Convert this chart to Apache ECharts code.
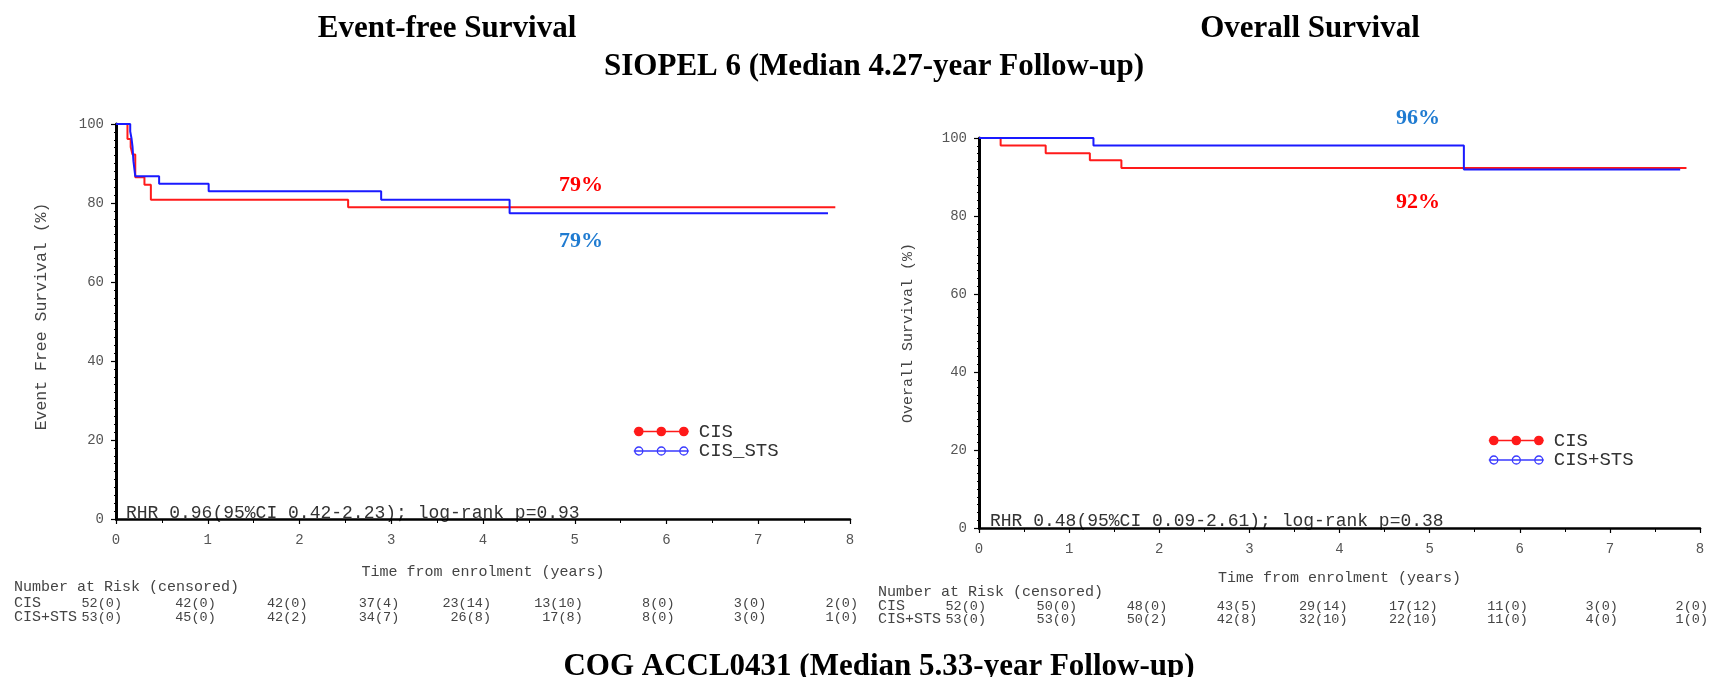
<!DOCTYPE html>
<html><head><meta charset="utf-8">
<script src="https://cdn.jsdelivr.net/npm/echarts@6/dist/echarts.min.js"></script>
<style>html,body{margin:0;padding:0;background:#fff}#c{width:1720px;height:677px}</style>
</head><body><div id="c"></div>
<script>
// ---------- data ----------
const xTicks = [0, 1, 2, 3, 4, 5, 6, 7, 8];
const yTicks = [0, 20, 40, 60, 80, 100];

// Event-free survival (SIOPEL 6)
const efsCisTime = [0, 0.125, 0.16, 0.18, 0.21, 0.31, 0.38, 2.53, 7.84];
const efsCisSurv = [100, 96.2, 94.2, 92.3, 86.5, 84.6, 80.8, 78.9, 78.9];
const efsStsTime = [0, 0.155, 0.17, 0.18, 0.19, 0.21, 0.47, 1.01, 2.89, 4.29, 7.76];
const efsStsSurv = [100, 98.1, 96.2, 94.3, 90.6, 86.8, 84.9, 83.0, 80.8, 77.4, 77.4];

// Overall survival
const osCisTime = [0, 0.24, 0.74, 1.23, 1.58, 7.85];
const osCisSurv = [100, 98.1, 96.1, 94.3, 92.3, 92.3];
const osStsTime = [0, 1.27, 5.38, 7.78];
const osStsSurv = [100, 98.1, 91.9, 91.9];

// Numbers at risk (censored)
const riskTimes = [0, 1, 2, 3, 4, 5, 6, 7, 8];
const efsRiskCis = ['52(0)', '42(0)', '42(0)', '37(4)', '23(14)', '13(10)', '8(0)', '3(0)', '2(0)'];
const efsRiskSts = ['53(0)', '45(0)', '42(2)', '34(7)', '26(8)', '17(8)', '8(0)', '3(0)', '1(0)'];
const osRiskCis = ['52(0)', '50(0)', '48(0)', '43(5)', '29(14)', '17(12)', '11(0)', '3(0)', '2(0)'];
const osRiskSts = ['53(0)', '53(0)', '50(2)', '42(8)', '32(10)', '22(10)', '11(0)', '4(0)', '1(0)'];

const efsSeriesNames = ['CIS', 'CIS_STS'];
const osSeriesNames = ['CIS', 'CIS+STS'];
const riskRowNames = ['CIS', 'CIS+STS'];
const efsEstimates = ['79%', '79%'];
const osEstimates = ['96%', '92%'];
const efsStat = 'RHR 0.96(95%CI 0.42-2.23); log-rank p=0.93';
const osStat = 'RHR 0.48(95%CI 0.09-2.61); log-rank p=0.38';
const panelTitles = ['Event-free Survival', 'Overall Survival'];
const studyTitles = ['SIOPEL 6 (Median 4.27-year Follow-up)', 'COG ACCL0431 (Median 5.33-year Follow-up)'];
const xAxisName = 'Time from enrolment (years)';
const yAxisNames = ['Event Free Survival (%)', 'Overall Survival (%)'];
const riskHeader = 'Number at Risk (censored)';

// ---------- styles ----------
const RED = '#ff1a1a', BLUE = '#1a1aff', EST_BLUE = '#1f7bd1', EST_RED = '#ff0000';
const MONO = '"Liberation Mono", "DejaVu Sans Mono", monospace';
const SERIF = '"Liberation Serif", "Times New Roman", serif';

const zip = (t, s) => t.map((v, i) => [v, s[i]]);

const chart = echarts.init(document.getElementById('c'), null, { renderer: 'canvas' });

function xAxisCfg(gi, gap) {
  return {
    type: 'value', gridIndex: gi, min: xTicks[0], max: xTicks[xTicks.length - 1], interval: 1,
    name: xAxisName, nameLocation: 'middle', nameGap: gap,
    nameTextStyle: { fontFamily: MONO, fontSize: 15, color: '#444' },
    axisLine: { show: true, onZero: false, lineStyle: { color: '#000', width: 2.5 } },
    axisTick: { show: true, length: 5, lineStyle: { color: '#000', width: 1.2 } },
    minorTick: { show: true, splitNumber: 2, length: 4, lineStyle: { color: '#000', width: 1 } },
    splitLine: { show: false },
    axisLabel: { fontFamily: MONO, fontSize: 14, color: '#555', margin: 14 }
  };
}
function yAxisCfg(gi, name, gap, nameSize, namePad) {
  return {
    type: 'value', gridIndex: gi, min: yTicks[0], max: yTicks[yTicks.length - 1], interval: 20,
    name: name, nameLocation: 'middle', nameGap: gap, nameRotate: 90,
    nameTextStyle: { fontFamily: MONO, fontSize: nameSize, color: '#444', padding: namePad },
    axisLine: { show: true, onZero: false, lineStyle: { color: '#000', width: 3 } },
    axisTick: { show: true, length: 5, lineStyle: { color: '#000', width: 1.2 } },
    minorTick: { show: true, splitNumber: 10, length: 2, lineStyle: { color: '#000', width: 1 } },
    splitLine: { show: false },
    axisLabel: { fontFamily: MONO, fontSize: 14, color: '#555', margin: 12 }
  };
}
function kmSeries(name, xi, data, color) {
  return {
    type: 'line', name: name, xAxisIndex: xi, yAxisIndex: xi, data: data,
    step: 'end', showSymbol: false, symbol: 'none', silent: true,
    lineStyle: { color: color, width: 2 }, itemStyle: { color: color },
    animation: false
  };
}
const filledIcon = 'path://M0,5 L55,5 M1,5 A4,4 0 1,1 9,5 A4,4 0 1,1 1,5 Z M23.5,5 A4,4 0 1,1 31.5,5 A4,4 0 1,1 23.5,5 Z M46,5 A4,4 0 1,1 54,5 A4,4 0 1,1 46,5 Z';
function legendCfg(names, left, top) {
  return {
    show: true, orient: 'vertical', left: left, top: top, padding: 0, itemGap: 0.5,
    itemWidth: 55, itemHeight: 10, selectedMode: false,
    textStyle: { fontFamily: MONO, fontSize: 19, color: '#333', lineHeight: 19, padding: [0, 0, 0, 5] },
    data: [
      { name: names[0], icon: filledIcon, itemStyle: { color: RED, borderColor: RED, borderWidth: 1.6 } },
      { name: names[1], icon: filledIcon, itemStyle: { color: 'rgba(255,255,255,0)', borderColor: '#3a3aff', borderWidth: 1.3 } }
    ]
  };
}

chart.setOption({
  animation: false,
  backgroundColor: '#fff',
  grid: [
    { left: 116, top: 124, width: 734, height: 395, show: false },
    { left: 979, top: 138, width: 721, height: 390, show: false }
  ],
  xAxis: [xAxisCfg(0, 46), xAxisCfg(1, 43)],
  yAxis: [yAxisCfg(0, yAxisNames[0], 66, 16.5, [0, 0, 0, 10]), yAxisCfg(1, yAxisNames[1], 63, 15, 0)],
  legend: [legendCfg(efsSeriesNames, 633, 422), legendCfg(osSeriesNames, 1488, 431)],
  series: [
    kmSeries(efsSeriesNames[0], 0, zip(efsCisTime, efsCisSurv), RED),
    kmSeries(efsSeriesNames[1], 0, zip(efsStsTime, efsStsSurv), BLUE),
    kmSeries(osSeriesNames[0], 1, zip(osCisTime, osCisSurv), RED),
    kmSeries(osSeriesNames[1], 1, zip(osStsTime, osStsSurv), BLUE)
  ]
});

// ---------- text annotations ----------
function txt(text, x, y, font, fill, align, valign) {
  return { type: 'text', silent: true, x: x, y: y,
    style: { text: text, font: font, fill: fill, align: align || 'left', verticalAlign: valign || 'middle' } };
}
const g = [];
g.push(txt(panelTitles[0], 447, 29, 'bold 31px ' + SERIF, '#000', 'center'));
g.push(txt(panelTitles[1], 1310, 29, 'bold 31px ' + SERIF, '#000', 'center'));
g.push(txt(studyTitles[0], 874, 67, 'bold 31px ' + SERIF, '#000', 'center'));
g.push(txt(studyTitles[1], 879, 667, 'bold 31px ' + SERIF, '#000', 'center'));

g.push(txt(efsEstimates[0], 581, 185, 'bold 22px ' + SERIF, EST_RED, 'center'));
g.push(txt(efsEstimates[1], 581, 241, 'bold 22px ' + SERIF, EST_BLUE, 'center'));
g.push(txt(osEstimates[0], 1418, 118, 'bold 22px ' + SERIF, EST_BLUE, 'center'));
g.push(txt(osEstimates[1], 1418, 202, 'bold 22px ' + SERIF, EST_RED, 'center'));

g.push(txt(efsStat, 126, 513, '18px ' + MONO, '#333', 'left'));
g.push(txt(osStat, 990, 521, '18px ' + MONO, '#333', 'left'));

function riskTable(ai, labelX, rows, riskA, riskB, firstRight, offset) {
  const fl = '15px ' + MONO, fv = '13.5px ' + MONO, c = '#444';
  g.push(txt(riskHeader, labelX, rows[0], fl, c, 'left'));
  g.push(txt(riskRowNames[0], labelX, rows[1], fl, c, 'left'));
  g.push(txt(riskRowNames[1], labelX, rows[2], fl, c, 'left'));
  riskTimes.forEach((t, i) => {
    const px = chart.convertToPixel({ xAxisIndex: ai }, t);
    const right = i === 0 ? firstRight : px + offset;
    g.push(txt(riskA[i], right, rows[1], fv, c, 'right'));
    g.push(txt(riskB[i], right, rows[2], fv, c, 'right'));
  });
}
riskTable(0, 14, [587, 603, 617], efsRiskCis, efsRiskSts, 122, 8);
riskTable(1, 878, [592, 606, 619], osRiskCis, osRiskSts, 986, 8);

chart.setOption({ graphic: { elements: g } });
</script></body></html>
